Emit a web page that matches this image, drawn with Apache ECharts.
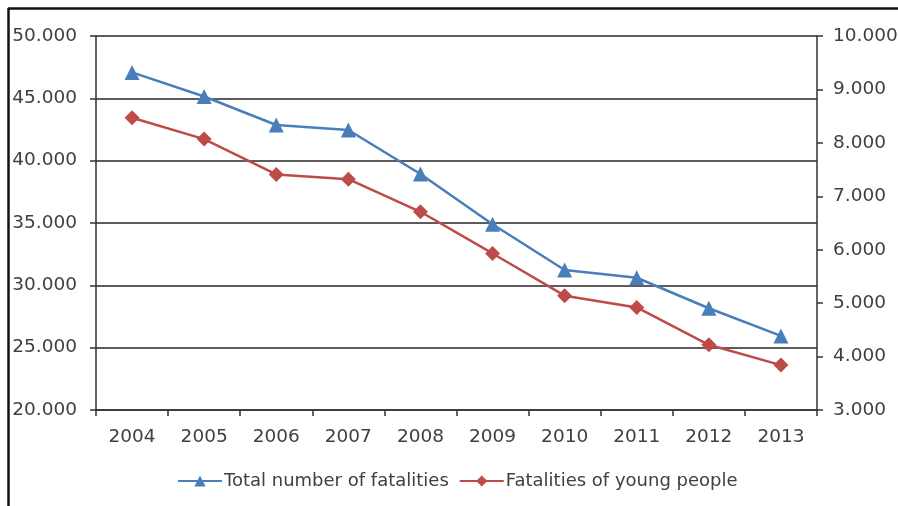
<!DOCTYPE html>
<html>
<head>
<meta charset="utf-8">
<script src="https://cdn.jsdelivr.net/npm/echarts@6/dist/echarts.min.js"></script>
<style>
  html, body { margin: 0; padding: 0; background: #fff; }
  #chart { width: 898px; height: 506px; }
</style>
</head>
<body>
<div id="chart"></div>
<script>
// Road fatalities, 2004–2013
const years = ['2004', '2005', '2006', '2007', '2008', '2009', '2010', '2011', '2012', '2013'];
const totalFatalities = [47080, 45150, 42860, 42460, 38930, 34900, 31230, 30610, 28160, 25940];
const youngFatalities = [8470, 8070, 7410, 7320, 6710, 5930, 5140, 4920, 4220, 3840];
const seriesNames = ['Total number of fatalities', 'Fatalities of young people'];

// thousands separated with a dot, e.g. 50.000
function fmt(v) {
  return String(v).replace(/\B(?=(\d{3})+(?!\d))/g, '.');
}

const textColor = '#404040';
const axisColor = '#333333';
const fontFamily = 'DejaVu Sans, Verdana, sans-serif';
const labelSize = 18.5;

const chart = echarts.init(document.getElementById('chart'), null, { renderer: 'canvas' });

chart.setOption({
  animation: false,
  backgroundColor: '#fff',
  grid: { left: 96, right: 81, top: 36, bottom: 96, containLabel: false, outerBoundsMode: 'none' },
  legend: {
    top: 467,
    left: 172,
    itemWidth: 44,
    itemHeight: 14,
    itemGap: 10,
    textStyle: { color: textColor, fontSize: 18, fontFamily: fontFamily, padding: [0, 0, 0, -3] },
    data: seriesNames
  },
  xAxis: {
    type: 'category',
    data: years,
    boundaryGap: true,
    axisLine: { lineStyle: { color: axisColor, width: 1.5 } },
    axisTick: { show: true, length: 6, lineStyle: { color: axisColor, width: 1.5 } },
    axisLabel: { color: textColor, fontSize: labelSize, fontFamily: fontFamily, margin: 18 }
  },
  yAxis: [
    {
      type: 'value',
      min: 20000,
      max: 50000,
      interval: 5000,
      axisLine: { show: true, lineStyle: { color: axisColor, width: 1.5 } },
      axisTick: { show: true, length: 6, lineStyle: { color: axisColor, width: 1.5 } },
      splitLine: { show: true, lineStyle: { color: '#262626', width: 1.5 } },
      axisLabel: { color: textColor, fontSize: labelSize, fontFamily: fontFamily, margin: 19, formatter: fmt }
    },
    {
      type: 'value',
      min: 3000,
      max: 10000,
      interval: 1000,
      position: 'right',
      axisLine: { show: true, lineStyle: { color: axisColor, width: 1.5 } },
      axisTick: { show: true, length: 6, lineStyle: { color: axisColor, width: 1.5 } },
      splitLine: { show: false },
      axisLabel: { color: textColor, fontSize: labelSize, fontFamily: fontFamily, margin: 16, formatter: fmt }
    }
  ],
  series: [
    {
      name: seriesNames[0],
      type: 'line',
      yAxisIndex: 0,
      data: totalFatalities,
      symbol: 'triangle',
      symbolSize: 15,
      showAllSymbol: true,
      itemStyle: { color: '#4a7ebb' },
      lineStyle: { color: '#4a7ebb', width: 2.5 }
    },
    {
      name: seriesNames[1],
      type: 'line',
      yAxisIndex: 1,
      data: youngFatalities,
      symbol: 'diamond',
      symbolSize: 15,
      showAllSymbol: true,
      itemStyle: { color: '#be4b48' },
      lineStyle: { color: '#be4b48', width: 2.5 }
    }
  ],
  graphic: [
    // frame edges along the top and left
    { type: 'line', shape: { x1: 8, y1: 8.5, x2: 898, y2: 8.5 }, style: { stroke: '#111', lineWidth: 2.5 }, silent: true },
    { type: 'line', shape: { x1: 8.5, y1: 8, x2: 8.5, y2: 506 }, style: { stroke: '#111', lineWidth: 2.5 }, silent: true }
  ]
});
</script>
</body>
</html>
